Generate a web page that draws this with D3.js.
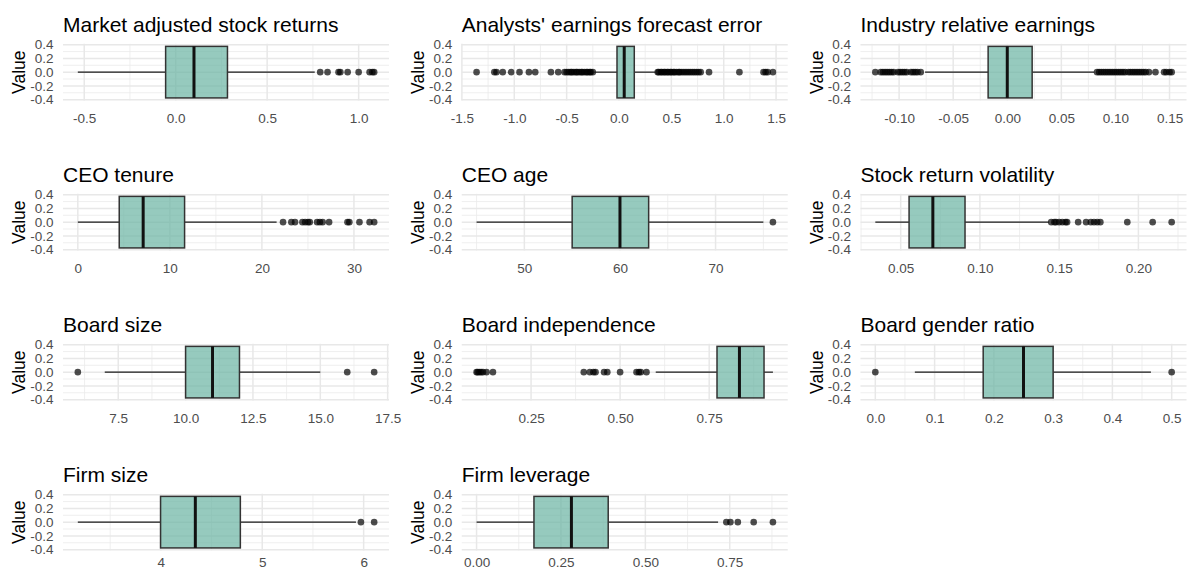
<!DOCTYPE html>
<html>
<head>
<meta charset="utf-8">
<script src="https://cdn.jsdelivr.net/npm/d3@7"></script>
<style>
  html, body { margin: 0; padding: 0; background: #ffffff; }
  svg { display: block; font-family: "Liberation Sans", Arial, sans-serif; }
</style>
</head>
<body>
<svg id="chart" width="1187" height="571"></svg>
<script>
// Panel titles, in facet order (left to right, top to bottom)
const titles = [
  "Market adjusted stock returns", "Analysts' earnings forecast error", "Industry relative earnings",
  "CEO tenure", "CEO age", "Stock return volatility",
  "Board size", "Board independence", "Board gender ratio",
  "Firm size", "Firm leverage"
];

// Box-plot summaries per panel
const lowerWhisker = [-0.535, -0.242, -0.076, 0.0, 45, 0.034, 7, 0.600, 0.0667, 3.181, 0.000];
const lowerHinge   = [-0.055, -0.019, -0.0177, 4.5, 55, 0.0553, 10, 0.772, 0.182, 3.997, 0.170];
const medians      = [ 0.100,  0.050,  0.000, 7.1, 60, 0.0703, 11, 0.835, 0.250, 4.340, 0.281];
const upperHinge   = [ 0.283,  0.146,  0.023, 11.6, 63, 0.0906, 12, 0.904, 0.300, 4.784, 0.390];
const upperWhisker = [ 0.760,  0.368,  0.0805, 21.6, 75, 0.1436, 15, 0.929, 0.465, 5.924, 0.7155];

// Outlying observations per panel
const outliers = [
  [0.79, 0.83, 0.89, 0.90, 0.94, 1.00, 1.06, 1.075, 1.085],
  [-1.36, -1.19, -1.17, -1.11, -1.03, -0.95, -0.86, -0.80, -0.65, -0.58,
   -0.52, -0.50, -0.48, -0.46, -0.45, -0.43, -0.41, -0.40, -0.38, -0.36, -0.35, -0.33, -0.31, -0.30, -0.28, -0.27, -0.25,
   0.37, 0.38, 0.40, 0.41, 0.43, 0.44, 0.46, 0.47, 0.49, 0.50, 0.52, 0.53, 0.55, 0.57, 0.58, 0.60, 0.62, 0.64, 0.66,
   0.68, 0.70, 0.72, 0.74, 0.76, 0.78, 0.86, 1.15, 1.38, 1.40, 1.42, 1.47],
  [-0.122, -0.117, -0.115, -0.113, -0.111, -0.109, -0.107, -0.105, -0.101, -0.099, -0.097, -0.095, -0.093,
   -0.089, -0.087, -0.085, -0.083, -0.080,
   0.083, 0.085, 0.087, 0.089, 0.091, 0.093, 0.095, 0.097, 0.099, 0.101, 0.103, 0.105, 0.107, 0.109,
   0.112, 0.114, 0.116, 0.118, 0.120, 0.122, 0.124, 0.126, 0.128, 0.131, 0.137, 0.145, 0.147, 0.150, 0.152],
  [22.3, 23.2, 23.6, 24.4, 24.7, 25.0, 25.2, 26.0, 26.3, 26.6, 27.3, 29.3, 29.5, 30.6, 31.7, 32.2],
  [76],
  [0.145, 0.147, 0.148, 0.150, 0.152, 0.154, 0.155, 0.162, 0.167, 0.170, 0.172, 0.174, 0.176, 0.193, 0.209, 0.221],
  [6, 16, 17],
  [0.097, 0.100, 0.105, 0.110, 0.115, 0.125, 0.143, 0.398, 0.415, 0.425, 0.431, 0.455, 0.464, 0.500,
   0.546, 0.553, 0.558, 0.574],
  [0.0, 0.5],
  [5.973, 6.104],
  [0.740, 0.752, 0.774, 0.821, 0.878]
];

// Horizontal-axis breaks and their labels per panel
const xTicks = [
  [-0.5, 0, 0.5, 1.0],
  [-1.5, -1.0, -0.5, 0, 0.5, 1.0, 1.5],
  [-0.10, -0.05, 0, 0.05, 0.10, 0.15],
  [0, 10, 20, 30],
  [50, 60, 70],
  [0.05, 0.10, 0.15, 0.20],
  [7.5, 10, 12.5, 15, 17.5],
  [0.25, 0.50, 0.75],
  [0, 0.1, 0.2, 0.3, 0.4, 0.5],
  [4, 5, 6],
  [0, 0.25, 0.50, 0.75]
];
const xTickLabels = [
  ["-0.5", "0.0", "0.5", "1.0"],
  ["-1.5", "-1.0", "-0.5", "0.0", "0.5", "1.0", "1.5"],
  ["-0.10", "-0.05", "0.00", "0.05", "0.10", "0.15"],
  ["0", "10", "20", "30"],
  ["50", "60", "70"],
  ["0.05", "0.10", "0.15", "0.20"],
  ["7.5", "10.0", "12.5", "15.0", "17.5"],
  ["0.25", "0.50", "0.75"],
  ["0.0", "0.1", "0.2", "0.3", "0.4", "0.5"],
  ["4", "5", "6"],
  ["0.00", "0.25", "0.50", "0.75"]
];

// Vertical axis (shared by every panel)
const yTicks = [-0.4, -0.2, 0, 0.2, 0.4];
const yTickLabels = ["-0.4", "-0.2", "0.0", "0.2", "0.4"];
const yTitle = "Value";

const svg = d3.select("#chart");
svg.append("rect").attr("width", 1187).attr("height", 571).attr("fill", "#ffffff");

const panelW = 326, panelH = 56.7;
const colStep = 398.75, rowStep = 150;
const nRows = 4;
const boxHalf = 0.375;
const yDomain = [-boxHalf * 1.1, boxHalf * 1.1];

// minor breaks: midway between majors, plus half a step beyond each end
function minorBreaks(major, domain) {
  const out = [];
  const step = major[1] - major[0];
  const ext = [major[0] - step].concat(major, [major[major.length - 1] + step]);
  for (let i = 0; i < ext.length - 1; i++) {
    const m = (ext[i] + ext[i + 1]) / 2;
    if (m >= domain[0] && m <= domain[1]) out.push(m);
  }
  return out;
}

titles.forEach((title, i) => {
  const col = i % 3, row = Math.floor(i / 3);
  const x0 = 63 + col * colStep;
  const y0 = 43.8 + row * rowStep;

  const lo = Math.min(lowerWhisker[i], d3.min(outliers[i]));
  const hi = Math.max(upperWhisker[i], d3.max(outliers[i]));
  const pad = (hi - lo) * 0.05;
  const xDomain = [lo - pad, hi + pad];

  const x = d3.scaleLinear().domain(xDomain).range([x0, x0 + panelW]);
  const y = d3.scaleLinear().domain(yDomain).range([y0 + panelH, y0]);

  const g = svg.append("g");

  // grid
  const grid = g.append("g").attr("class", "grid");
  const xMajor = xTicks[i].filter(v => v >= xDomain[0] - 1e-9 && v <= xDomain[1] + 1e-9);
  const xMinor = minorBreaks(xTicks[i], xDomain);
  const yMinor = minorBreaks(yTicks, yDomain);

  grid.selectAll("line.ymin").data(yMinor).join("line")
    .attr("x1", x0).attr("x2", x0 + panelW)
    .attr("y1", d => y(d)).attr("y2", d => y(d))
    .attr("stroke", "#ebebeb").attr("stroke-width", 0.8);
  grid.selectAll("line.xmin").data(xMinor).join("line")
    .attr("x1", d => x(d)).attr("x2", d => x(d))
    .attr("y1", y0).attr("y2", y0 + panelH)
    .attr("stroke", "#ebebeb").attr("stroke-width", 0.8);
  grid.selectAll("line.ymaj").data(yTicks).join("line")
    .attr("x1", x0).attr("x2", x0 + panelW)
    .attr("y1", d => y(d)).attr("y2", d => y(d))
    .attr("stroke", "#e8e8e8").attr("stroke-width", 1.5);
  grid.selectAll("line.xmaj").data(xMajor).join("line")
    .attr("x1", d => x(d)).attr("x2", d => x(d))
    .attr("y1", y0).attr("y2", y0 + panelH)
    .attr("stroke", "#e8e8e8").attr("stroke-width", 1.5);

  // outliers
  g.append("g").selectAll("circle").data(outliers[i]).join("circle")
    .attr("cx", d => x(d)).attr("cy", y(0)).attr("r", 3.3)
    .attr("fill", "#000000").attr("fill-opacity", 0.7);

  // whiskers
  g.append("line")
    .attr("x1", x(lowerWhisker[i])).attr("x2", x(lowerHinge[i]))
    .attr("y1", y(0)).attr("y2", y(0))
    .attr("stroke", "#1a1a1a").attr("stroke-width", 1.2);
  g.append("line")
    .attr("x1", x(upperHinge[i])).attr("x2", x(upperWhisker[i]))
    .attr("y1", y(0)).attr("y2", y(0))
    .attr("stroke", "#1a1a1a").attr("stroke-width", 1.2);

  // box
  g.append("rect")
    .attr("x", x(lowerHinge[i])).attr("width", x(upperHinge[i]) - x(lowerHinge[i]))
    .attr("y", y(boxHalf)).attr("height", y(-boxHalf) - y(boxHalf))
    .attr("fill", "#69b3a2").attr("fill-opacity", 0.7)
    .attr("stroke", "#333333").attr("stroke-width", 1.5);

  // median
  g.append("line")
    .attr("x1", x(medians[i])).attr("x2", x(medians[i]))
    .attr("y1", y(boxHalf)).attr("y2", y(-boxHalf))
    .attr("stroke", "#111111").attr("stroke-width", 3);

  // axes (bottom row sits tight against the lower edge, so its labels ride a little higher)
  const padX = row === nRows - 1 ? 6.5 : 13;
  const xAxis = d3.axisBottom(x).tickValues(xMajor)
    .tickFormat(d => xTickLabels[i][xTicks[i].indexOf(d)])
    .tickSize(0).tickPadding(padX);
  const gx = g.append("g").attr("transform", `translate(0,${y0 + panelH})`).call(xAxis);
  gx.select(".domain").remove();
  gx.selectAll("text").attr("font-size", 13.5).attr("fill", "#4d4d4d")
    .attr("font-family", "'Liberation Sans', Arial, sans-serif");

  const yAxis = d3.axisLeft(y).tickValues(yTicks)
    .tickFormat((d, k) => yTickLabels[k])
    .tickSize(0).tickPadding(9.5);
  const gy = g.append("g").attr("transform", `translate(${x0},0)`).call(yAxis);
  gy.select(".domain").remove();
  gy.selectAll("text").attr("font-size", 13.5).attr("fill", "#4d4d4d")
    .attr("font-family", "'Liberation Sans', Arial, sans-serif");

  // axis title
  g.append("text")
    .attr("transform", `translate(${x0 - 38},${y0 + panelH / 2}) rotate(-90)`)
    .attr("text-anchor", "middle")
    .attr("font-size", 17.5).attr("fill", "#000000")
    .text(yTitle);

  // panel title
  g.append("text")
    .attr("x", x0).attr("y", y0 - 12.3)
    .attr("font-size", 21).attr("fill", "#000000")
    .text(title);
});
</script>
</body>
</html>
